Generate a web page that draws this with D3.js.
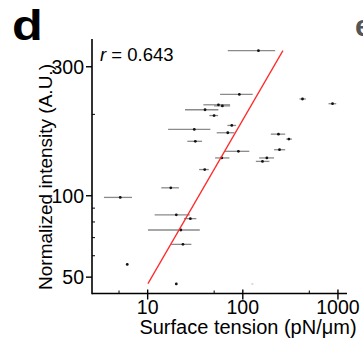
<!DOCTYPE html>
<html><head><meta charset="utf-8">
<script src="https://cdn.jsdelivr.net/npm/d3@7"></script>
<style>body{margin:0;background:#fff}svg{display:block}text{font-family:"Liberation Sans",Arial,sans-serif}</style>
</head><body><svg id="chart"></svg>
<script>
// values (x: surface tension pN/um, y: normalized intensity A.U.)
const tension     = [146, 92, 424, 877, 55.4, 61, 40.1, 49.9, 76.6, 30.9, 69.5, 237, 305, 31.7, 243, 89.9, 60.1, 179, 161, 39.8, 17.5, 5.15, 20, 28.1, 22.3, 23.5, 6.1, 20];
const tensionLow  = [69.5, 57.7, 394, 796, 38.5, 49.9, 24.7, 44.5, 68.9, 16.4, 53.2, 197, 286, 26.1, 213, 65.1, 51.1, 148.5, 137, 34.7, 13.9, 3.47, 11.85, 24.1, 10.07, 17.7, 6.1, 20];
const tensionHigh = [219, 127, 460, 959, 73.5, 73.5, 55.4, 55, 85, 45.6, 81.6, 279, 328, 37.3, 279, 117, 72.3, 213, 190.6, 43.9, 21.3, 6.84, 27.7, 32.5, 35.3, 28.8, 6.1, 20];
const intensity   = [344, 237, 228, 219, 217, 215, 208, 198, 182, 176, 171, 169, 162, 159, 148, 146, 138, 138, 134, 125, 107, 98.6, 85, 82.3, 74.7, 66.1, 55.7, 47.2];
const faintTension = [126], faintIntensity = [47.2];
const fitTension = [10.07, 264], fitIntensity = [47.3, 344];
const xTicks = [10, 100, 1000], yTicks = [50, 100, 300];
const xMinor = [5, 50, 500], yMinor = [60, 70, 80, 90, 200];
const rValue = '0.643';

const W = 363, H = 343;
const svg = d3.select('#chart').attr('width', W).attr('height', H);
const x = d3.scaleLog().domain([2.6, 1245]).range([92, 347]);
const y = d3.scaleLog().domain([43.5, 380]).range([293.5, 39]);

// error bars + points
const pts = tension.map((t, i) => ({t, lo: tensionLow[i], hi: tensionHigh[i], v: intensity[i]}));
svg.append('g').selectAll('line').data(pts).join('line')
  .attr('x1', d => x(d.lo)).attr('x2', d => x(d.hi)).attr('y1', d => y(d.v)).attr('y2', d => y(d.v))
  .attr('stroke', '#8a8a8a').attr('stroke-width', 1.3);
svg.append('g').selectAll('circle').data(pts).join('circle')
  .attr('cx', d => x(d.t)).attr('cy', d => y(d.v)).attr('r', 1.4).attr('fill', '#111');
svg.append('g').selectAll('circle').data(faintTension).join('circle')
  .attr('cx', d => x(d)).attr('cy', (d, i) => y(faintIntensity[i])).attr('r', 1.2).attr('fill', '#ddd');

// regression line
svg.append('line').attr('x1', x(fitTension[0])).attr('y1', y(fitIntensity[0]))
  .attr('x2', x(fitTension[1])).attr('y2', y(fitIntensity[1]))
  .attr('stroke', '#ff2a2a').attr('stroke-width', 1.3);

// axes
const ax = svg.append('g').attr('stroke', '#000');
const [x0, x1] = x.range(), [y0, y1] = y.range();
ax.append('line').attr('x1', x0).attr('x2', x1).attr('y1', y0).attr('y2', y0).attr('stroke-width', 1.6);
ax.append('line').attr('x1', x0).attr('x2', x0).attr('y1', y0 + 0.8).attr('y2', y1).attr('stroke-width', 1.6);
ax.selectAll('.xt').data(xTicks).join('line').attr('x1', d => x(d)).attr('x2', d => x(d)).attr('y1', y0 - 4).attr('y2', y0 + 6).attr('stroke-width', 1.4);
ax.selectAll('.xm').data(xMinor).join('line').attr('x1', d => x(d)).attr('x2', d => x(d)).attr('y1', y0 - 3).attr('y2', y0).attr('stroke-width', 1);
ax.selectAll('.yt').data(yTicks).join('line').attr('y1', d => y(d)).attr('y2', d => y(d)).attr('x1', x0 - 6).attr('x2', x0).attr('stroke-width', 1.4);
ax.selectAll('.ym').data(yMinor).join('line').attr('y1', d => y(d)).attr('y2', d => y(d)).attr('x1', x0).attr('x2', x0 + 3).attr('stroke-width', 1);

svg.append('g').selectAll('text').data(xTicks).join('text')
  .attr('x', d => x(d)).attr('y', 314).attr('text-anchor', 'middle').attr('font-size', 19.5).text(d => d);
svg.append('g').selectAll('text').data(yTicks).join('text')
  .attr('x', 84).attr('y', d => y(d)).attr('dy', '0.36em').attr('text-anchor', 'end').attr('font-size', 19.5).text(d => d);

svg.append('text').attr('x', 248).attr('y', 334).attr('text-anchor', 'middle').attr('font-size', 20).text('Surface tension (pN/\u03bcm)');
svg.append('text').attr('transform', 'translate(52,177) rotate(-90)').attr('text-anchor', 'middle').attr('font-size', 19).text('Normalized intensity (A.U.)');

const rt = svg.append('text').attr('x', 100).attr('y', 61).attr('font-size', 18.5);
rt.append('tspan').attr('font-style', 'italic').text('r');
rt.append('tspan').text(' = ' + rValue);

svg.append('text').attr('transform', 'translate(12,40) scale(1.2,1)').attr('font-size', 42).attr('font-weight', 'bold').text('d');
svg.append('text').attr('x', 355).attr('y', 36).attr('font-size', 30).attr('font-weight', 'bold').attr('fill', '#555').text('e');
</script></body></html>
